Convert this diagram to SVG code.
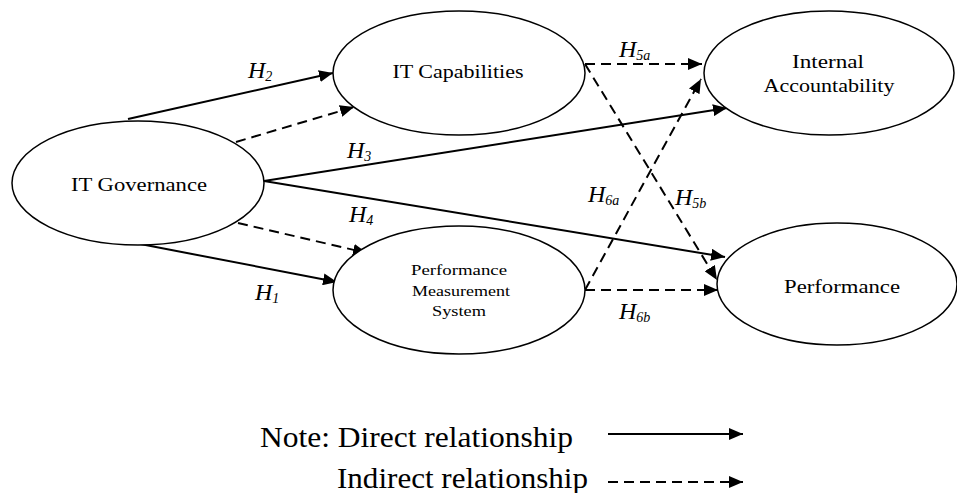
<svg xmlns="http://www.w3.org/2000/svg" width="957" height="493" viewBox="0 0 957 493">
<defs>
<marker id="ah" markerUnits="userSpaceOnUse" markerWidth="14" markerHeight="12" viewBox="0 0 14 12" refX="14" refY="6" orient="auto"><path d="M0,0 L14,6 L0,12 Z" fill="#000"/></marker>
</defs>
<style>
.node{fill:#fff;stroke:#000;stroke-width:1.5}
.lbl{font-family:'Liberation Serif','Times New Roman',serif;fill:#000;text-anchor:middle}
.h{font-family:'Liberation Serif','Times New Roman',serif;font-style:italic;font-size:24px;fill:#000}
.sub{font-size:14px}
.solid{stroke:#000;stroke-width:2;fill:none;marker-end:url(#ah)}
.dash{stroke:#000;stroke-width:2;fill:none;stroke-dasharray:10 6;marker-end:url(#ah)}
.note{font-family:'Liberation Serif','Times New Roman',serif;font-size:30px;fill:#000}
</style>
<rect width="957" height="493" fill="#fff"/>
<g id="connectors">
<line class="solid" x1="128" y1="119" x2="333" y2="73"/>
<line class="dash" x1="236" y1="142" x2="354" y2="107"/>
<line class="solid" x1="264" y1="181" x2="727" y2="108"/>
<line class="solid" x1="264" y1="181" x2="725" y2="257"/>
<line class="dash" x1="238" y1="223" x2="367" y2="253"/>
<line class="solid" x1="130" y1="242" x2="337" y2="282"/>
<line class="dash" x1="585" y1="64" x2="702" y2="64"/>
<line class="dash" x1="585" y1="64" x2="717" y2="280"/>
<line class="dash" x1="585" y1="290" x2="701" y2="79"/>
<line class="dash" x1="585" y1="290" x2="718" y2="290"/>
</g>
<g id="node-itgov">
<ellipse class="node" cx="138" cy="183" rx="126" ry="62"/>
<text class="lbl" x="139" y="191" font-size="19" textLength="136" lengthAdjust="spacingAndGlyphs">IT Governance</text>
</g>
<g id="node-itcap">
<ellipse class="node" cx="459" cy="73" rx="126" ry="62"/>
<text class="lbl" x="458" y="78" font-size="19" textLength="131" lengthAdjust="spacingAndGlyphs">IT Capabilities</text>
</g>
<g id="node-ia">
<ellipse class="node" cx="829" cy="73" rx="125" ry="62"/>
<text class="lbl" x="828" y="68" font-size="19" textLength="72" lengthAdjust="spacingAndGlyphs">Internal</text>
<text class="lbl" x="829" y="92" font-size="19" textLength="131" lengthAdjust="spacingAndGlyphs">Accountability</text>
</g>
<g id="node-pms">
<ellipse class="node" cx="459" cy="290" rx="126" ry="64"/>
<text class="lbl" x="459" y="275" font-size="15" textLength="96" lengthAdjust="spacingAndGlyphs">Performance</text>
<text class="lbl" x="461" y="296" font-size="15" textLength="98" lengthAdjust="spacingAndGlyphs">Measurement</text>
<text class="lbl" x="459" y="316" font-size="15" textLength="54" lengthAdjust="spacingAndGlyphs">System</text>
</g>
<g id="node-perf">
<ellipse class="node" cx="837" cy="284" rx="120" ry="61"/>
<text class="lbl" x="842" y="293" font-size="19" textLength="116" lengthAdjust="spacingAndGlyphs">Performance</text>
</g>
<g id="labels">
<text class="h" x="248" y="78">H<tspan class="sub" dy="3">2</tspan></text>
<text class="h" x="347" y="158">H<tspan class="sub" dy="3">3</tspan></text>
<text class="h" x="349" y="222">H<tspan class="sub" dy="3">4</tspan></text>
<text class="h" x="255" y="300">H<tspan class="sub" dy="3">1</tspan></text>
<text class="h" x="619" y="57">H<tspan class="sub" dy="3">5a</tspan></text>
<text class="h" x="588" y="202">H<tspan class="sub" dy="3">6a</tspan></text>
<text class="h" x="675" y="205">H<tspan class="sub" dy="3">5b</tspan></text>
<text class="h" x="619" y="319">H<tspan class="sub" dy="3">6b</tspan></text>
</g>
<g id="legend">
<text class="note" x="260" y="447" textLength="313" lengthAdjust="spacingAndGlyphs">Note: Direct relationship</text>
<text class="note" x="337" y="488" textLength="251" lengthAdjust="spacingAndGlyphs">Indirect relationship</text>
<line class="solid" x1="608" y1="434" x2="743" y2="434"/>
<line class="dash" x1="608" y1="482" x2="743" y2="482"/>
</g>
</svg>
